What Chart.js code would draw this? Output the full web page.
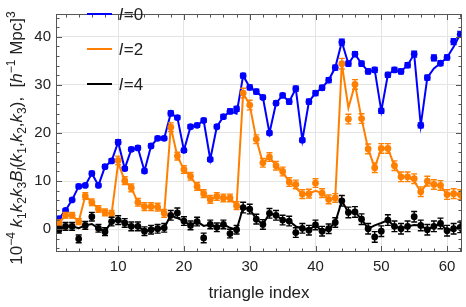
<!DOCTYPE html>
<html>
<head>
<meta charset="utf-8">
<script src="https://cdn.jsdelivr.net/npm/chart.js@4.4.1/dist/chart.umd.min.js"></script>
<style>
  html, body { margin: 0; padding: 0; background: #fff; }
  #wrap { width: 466px; height: 307px; position: relative; }
</style>
</head>
<body>
<div id="wrap"><canvas id="bispec"></canvas></div>
<script>
// triangle configurations 1..62
const triangleIndex = Array.from({ length: 62 }, (_, i) => i + 1);

// l=0 : measured points and model line
const mono = [2.2, 3.9, 6.1, 8.9, 9.1, 11.6, 9.1, 13.0, 14.2, 18.1,
    12.6, 16.6, 16.9, 12.1, 17.3, 18.9, 18.9, 24.1, 23.2, 16.4,
    21.3, 21.6, 22.6, 14.5, 21.3, 23.4, 24.5, 25.0, 31.9, 29.5,
    28.6, 27.4, 20.0, 26.2, 27.8, 26.5, 29.2, 18.5, 26.5, 28.3,
    29.4, 31.0, 33.6, 38.9, 34.4, 36.4, 34.4, 32.8, 33.1, 24.6,
    32.1, 33.1, 32.8, 34.1, 36.4, 21.6, 31.5, 35.6, 34.5, 35.7,
    39.0, 40.5];
const monoModel = [2.2, 3.9, 6.1, 8.9, 9.1, 11.6, 9.1, 13.0, 14.2, 18.1,
    12.6, 16.6, 16.9, 12.1, 17.3, 18.9, 18.9, 24.1, 23.2, 16.4,
    21.3, 21.6, 22.6, 14.5, 21.3, 23.4, 24.5, 24.0, 31.9, 29.5,
    28.6, 27.4, 20.0, 26.2, 27.8, 26.5, 29.2, 18.5, 26.5, 28.3,
    29.4, 31.0, 33.6, 38.9, 34.4, 36.4, 34.4, 32.8, 33.1, 24.6,
    32.1, 33.1, 32.8, 34.1, 36.4, 21.6, 31.5, 33.4, 34.5, 35.7,
    37.9, 40.5];
const monoErr = [0.3, 0.3, 0.3, 0.4, 0.3, 0.4, 0.3, 0.4, 0.4, 0.5,
    0.4, 0.4, 0.4, 0.4, 0.4, 0.4, 0.4, 0.5, 0.4, 0.4,
    0.4, 0.4, 0.4, 0.4, 0.4, 0.4, 0.5, 0.5, 0.5, 0.5,
    0.5, 0.4, 0.4, 0.4, 0.4, 0.5, 0.5, 0.4, 0.5, 0.5,
    0.5, 0.5, 0.5, 0.6, 0.5, 0.5, 0.5, 0.5, 0.5, 0.5,
    0.5, 0.5, 0.5, 0.5, 0.6, 0.5, 0.5, 0.6, 0.5, 0.5,
    0.6, 0.6];

// l=2
const quad = [1.3, 2.9, 2.9, 1.6, 6.9, 5.6, 4.2, 3.5, 3.2, 14.3,
    10.1, 8.6, 5.6, 4.7, 4.7, 4.6, 3.3, 21.2, 15.2, 12.4,
    11.0, 8.9, 7.4, 6.2, 6.8, 6.5, 6.5, 4.9, 28.3, 25.8,
    18.7, 13.8, 15.0, 13.2, 12.0, 9.8, 9.3, 7.3, 7.4, 9.6,
    7.5, 6.2, 6.5, 34.4, 22.9, 30.1, 23.0, 16.7, 12.8, 16.8,
    16.8, 13.2, 10.9, 10.9, 10.5, 7.8, 10.0, 9.3, 9.1, 7.2,
    7.4, 7.2];
const quadModel = [1.3, 2.9, 2.9, 1.6, 6.9, 5.6, 4.2, 3.5, 3.2, 13.8,
    10.1, 8.6, 5.6, 4.7, 4.7, 4.6, 3.3, 21.2, 15.2, 12.4,
    11.0, 8.9, 7.4, 6.2, 6.8, 6.5, 6.5, 4.9, 28.3, 25.8,
    18.7, 13.8, 15.0, 13.2, 12.0, 9.8, 8.6, 7.3, 7.4, 8.0,
    7.5, 6.2, 6.5, 34.4, 25.2, 30.1, 23.0, 16.7, 12.8, 16.8,
    16.8, 13.2, 10.9, 10.9, 10.0, 7.8, 9.6, 9.3, 9.1, 7.2,
    7.4, 7.2];
const quadErr = [0.6, 0.6, 0.6, 0.6, 0.7, 0.7, 0.7, 0.7, 0.7, 0.9,
    0.8, 0.8, 0.8, 0.8, 0.8, 0.8, 0.8, 0.9, 0.8, 0.8,
    0.8, 0.8, 0.8, 0.8, 0.8, 0.8, 0.8, 0.8, 1.0, 1.0,
    0.9, 0.9, 0.9, 0.9, 0.9, 0.9, 0.9, 0.9, 0.9, 0.9,
    0.9, 0.9, 0.9, 1.1, 1.0, 1.0, 1.0, 1.0, 1.0, 1.0,
    1.0, 1.0, 1.0, 1.0, 1.0, 1.0, 1.0, 1.0, 1.0, 1.0,
    1.0, 1.0];

// l=4
const hexa = [-0.1, 0.6, 0.6, -2.0, 0.8, 2.6, 0.2, -0.5, 1.6, 1.9,
    1.3, 0.6, 0.6, -0.4, -0.1, 0.1, 0.3, 2.9, 3.4, 1.7,
    0.8, 1.6, -1.8, 1.0, 0.4, 1.0, -0.9, -0.1, 4.5, 4.2,
    2.1, 1.0, 3.3, 2.9, 1.9, 1.7, -0.7, 0.2, -0.2, 0.9,
    -0.4, 0.1, 1.4, 5.9, 3.5, 3.6, 2.1, 0.1, -1.6, -0.4,
    1.9, 0.6, 0.1, 0.6, 2.6, 0.8, -0.1, 0.6, 1.2, -0.3,
    0.1, 0.4];
const hexaModel = [-0.1, 0.6, 0.6, 0.2, 0.8, 1.1, 0.2, -0.5, 1.6, 1.9,
    1.3, 0.6, 0.6, -0.4, -0.1, 0.1, 0.3, 2.9, 2.3, 1.7,
    0.8, 1.6, 0.7, 1.0, 0.4, 1.0, 0.3, -0.1, 4.5, 4.2,
    2.1, 1.0, 3.3, 2.9, 1.9, 1.7, 0.6, 0.2, -0.2, 0.9,
    -0.4, 0.1, 1.4, 5.9, 3.5, 3.6, 2.1, 0.1, 0.8, 1.3,
    1.9, 0.6, 0.1, 0.6, 0.9, 0.8, -0.1, 0.6, 1.2, -0.3,
    0.1, 0.4];
const hexaErr = [0.7, 0.8, 0.8, 0.8, 0.8, 0.9, 0.8, 0.8, 0.9, 0.9,
    0.9, 0.9, 0.9, 0.9, 0.9, 0.9, 0.9, 1.0, 1.0, 0.9,
    0.9, 0.9, 1.0, 0.9, 0.9, 0.9, 0.9, 0.9, 1.1, 1.0,
    1.0, 1.0, 1.0, 1.0, 1.0, 1.0, 1.0, 1.0, 1.0, 1.0,
    1.0, 1.0, 1.0, 1.1, 1.1, 1.1, 1.1, 1.1, 1.1, 1.1,
    1.1, 1.1, 1.1, 1.1, 1.1, 1.1, 1.1, 1.1, 1.1, 1.1,
    1.1, 1.1];

const xMajor = [10, 20, 30, 40, 50, 60];
const yMajor = [0, 10, 20, 30, 40];
const legendEll = ['0', '2', '4'];

const BLUE = '#0000ff';
const ORANGE = '#ff8000';
const BLACK = '#000000';
const FONT = '"Liberation Sans", Arial, sans-serif';

function pairs(vals) {
    return triangleIndex.map((x, i) => ({ x: x, y: vals[i] }));
}

function modelSet(label, vals, color, order) {
    return {
        label: label, data: pairs(vals), borderColor: color, borderWidth: 2,
        pointRadius: 0, fill: false, tension: 0, order: order, clip: 0
    };
}

function pointSet(label, vals, errs, color, order) {
    return {
        label: label, data: pairs(vals), showLine: false, pointRadius: 3.4,
        pointBackgroundColor: color, pointBorderWidth: 0, borderColor: color,
        errorBars: errs, order: order, clip: 0
    };
}

// vertical error bars with caps
const errorBarPlugin = {
    id: 'errorBars',
    afterDatasetDraw(chart, args) {
        const ds = chart.data.datasets[args.index];
        if (!ds.errorBars) return;
        const ctx = chart.ctx, ys = chart.scales.y, area = chart.chartArea;
        ctx.save();
        ctx.beginPath();
        ctx.rect(area.left, area.top, area.right - area.left, area.bottom - area.top);
        ctx.clip();
        ctx.strokeStyle = ds.pointBackgroundColor;
        ctx.lineWidth = 1.4;
        args.meta.data.forEach((pt, i) => {
            const v = ds.data[i].y, e = ds.errorBars[i];
            const y1 = ys.getPixelForValue(v + e), y2 = ys.getPixelForValue(v - e);
            ctx.beginPath();
            ctx.moveTo(pt.x, y1); ctx.lineTo(pt.x, y2);
            ctx.moveTo(pt.x - 3, y1); ctx.lineTo(pt.x + 3, y1);
            ctx.moveTo(pt.x - 3, y2); ctx.lineTo(pt.x + 3, y2);
            ctx.stroke();
        });
        ctx.restore();
    }
};

// frame with inward ticks on all four sides
const framePlugin = {
    id: 'frame',
    afterDraw(chart) {
        const ctx = chart.ctx, a = chart.chartArea;
        const xs = chart.scales.x, ys = chart.scales.y;
        ctx.save();
        ctx.strokeStyle = '#555';
        ctx.lineWidth = 1;
        ctx.strokeRect(a.left + 0.5, a.top + 0.5, a.right - a.left - 1, a.bottom - a.top - 1);
        ctx.beginPath();
        for (let v = 2; v <= 62; v += 2) {
            const len = v % 10 === 0 ? 6 : 3.5;
            const px = Math.round(xs.getPixelForValue(v)) + 0.5;
            ctx.moveTo(px, a.bottom); ctx.lineTo(px, a.bottom - len);
            ctx.moveTo(px, a.top); ctx.lineTo(px, a.top + len);
        }
        for (let v = -4; v <= 44; v += 2) {
            const len = v % 10 === 0 ? 6 : 3.5;
            const py = Math.round(ys.getPixelForValue(v)) + 0.5;
            ctx.moveTo(a.left, py); ctx.lineTo(a.left + len, py);
            ctx.moveTo(a.right, py); ctx.lineTo(a.right - len, py);
        }
        ctx.stroke();
        ctx.restore();
    }
};

// legend inside the frame: coloured line + italic l
const legendPlugin = {
    id: 'ellLegend',
    afterDraw(chart) {
        const ctx = chart.ctx;
        const colors = [BLUE, ORANGE, BLACK];
        ctx.save();
        legendEll.forEach((ell, i) => {
            const y = 14 + i * 35;
            ctx.strokeStyle = colors[i];
            ctx.lineWidth = 2;
            ctx.beginPath();
            ctx.moveTo(87, y); ctx.lineTo(112, y);
            ctx.stroke();
            ctx.fillStyle = '#222';
            ctx.textBaseline = 'alphabetic';
            ctx.font = 'italic 17px ' + FONT;
            ctx.fillText('l', 119, y + 6);
            const w = ctx.measureText('l').width;
            ctx.font = '17px ' + FONT;
            ctx.fillText('=' + ell, 119 + w + 1, y + 6);
        });
        ctx.restore();
    }
};

// rotated y title with super/subscripts
const yTitleParts = [
    ['10', 'n'], ['\u22124', 'sup'], [' ', 'n'],
    ['k', 'i'], ['1', 'sub'], ['k', 'i'], ['2', 'sub'], ['k', 'i'], ['3', 'sub'],
    ['B', 'i'], ['l', 'isub'], ['(', 'n'], ['k', 'i'], ['1', 'sub'], [',', 'n'],
    ['k', 'i'], ['2', 'sub'], [',', 'n'], ['k', 'i'], ['3', 'sub'], ['),  [', 'n'],
    ['h', 'i'], ['\u22121', 'sup'], [' Mpc]', 'n'], ['3', 'sup']
];

const axisTitlePlugin = {
    id: 'axisTitles',
    afterDraw(chart) {
        const ctx = chart.ctx, a = chart.chartArea;
        ctx.save();
        ctx.fillStyle = '#222';
        ctx.textBaseline = 'alphabetic';
        ctx.font = '17px ' + FONT;
        ctx.textAlign = 'center';
        ctx.fillText('triangle index', (a.left + a.right) / 2, 298);

        ctx.textAlign = 'left';
        const fontFor = k => {
            if (k === 'i') return 'italic 17px ' + FONT;
            if (k === 'isub') return 'italic 12px ' + FONT;
            if (k === 'sup' || k === 'sub') return '12px ' + FONT;
            return '17px ' + FONT;
        };
        const shiftFor = k => (k === 'sup' ? -7.5 : (k === 'sub' || k === 'isub') ? 4 : 0);
        let total = 0;
        yTitleParts.forEach(p => { ctx.font = fontFor(p[1]); total += ctx.measureText(p[0]).width; });
        ctx.translate(22, 138);
        ctx.rotate(-Math.PI / 2);
        let x = -total / 2;
        yTitleParts.forEach(p => {
            ctx.font = fontFor(p[1]);
            ctx.fillText(p[0], x, shiftFor(p[1]));
            x += ctx.measureText(p[0]).width;
        });
        ctx.restore();
    }
};

const ctx = document.getElementById('bispec').getContext('2d');
new Chart(ctx, {
    type: 'line',
    data: {
        datasets: [
            modelSet('l=0 model', monoModel, BLUE, 6),
            pointSet('l=0', mono, monoErr, BLUE, 5),
            modelSet('l=2 model', quadModel, ORANGE, 4),
            pointSet('l=2', quad, quadErr, ORANGE, 3),
            modelSet('l=4 model', hexaModel, BLACK, 2),
            pointSet('l=4', hexa, hexaErr, BLACK, 1)
        ]
    },
    options: {
        responsive: true,
        maintainAspectRatio: false,
        animation: false,
        layout: { padding: { top: 1, right: 3, left: 0, bottom: 0 } },
        plugins: { legend: { display: false }, tooltip: { enabled: false } },
        scales: {
            x: {
                type: 'linear',
                min: 0.55,
                max: 62.27,
                afterBuildTicks: s => { s.ticks = xMajor.map(v => ({ value: v })); },
                afterFit: s => { s.height = 55; },
                grid: { color: '#e4e4e4', drawTicks: false },
                border: { display: false },
                ticks: { color: '#222', font: { family: FONT, size: 15 }, padding: 6, maxRotation: 0, autoSkip: false }
            },
            y: {
                type: 'linear',
                min: -4.73,
                max: 44.73,
                afterBuildTicks: s => { s.ticks = yMajor.map(v => ({ value: v })); },
                afterFit: s => { s.width = 56; },
                grid: { color: '#e4e4e4', drawTicks: false },
                border: { display: false },
                ticks: { color: '#222', font: { family: FONT, size: 15 }, padding: 5 }
            }
        }
    },
    plugins: [errorBarPlugin, framePlugin, legendPlugin, axisTitlePlugin]
});
</script>
</body>
</html>
